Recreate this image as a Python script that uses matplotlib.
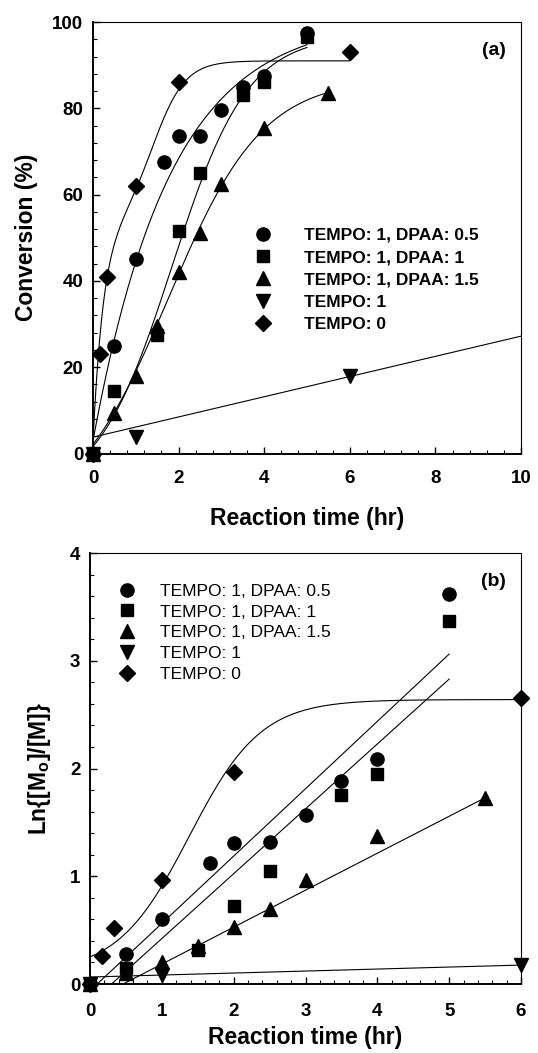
import numpy as np
import matplotlib
matplotlib.use('Agg')
import matplotlib.pyplot as plt
from matplotlib.ticker import MultipleLocator

plt.rcParams['font.family'] = ['Liberation Sans', 'DejaVu Sans']

labels = ["TEMPO: 1, DPAA: 0.5", "TEMPO: 1, DPAA: 1", "TEMPO: 1, DPAA: 1.5",
          "TEMPO: 1", "TEMPO: 0"]
markers = ['o', 's', '^', 'v', 'D']
msizes = [9.5, 8, 9.5, 9.5, 8.3]

# (a) conversion (%) vs reaction time (hr)
t_dpaa05 = [0, 0.5, 1, 1.67, 2, 2.5, 3, 3.5, 4, 5]
c_dpaa05 = [0, 25, 45, 67.5, 73.5, 73.5, 79.5, 85, 87.5, 97.5]
t_dpaa1 = [0, 0.5, 1.5, 2, 2.5, 3.5, 4, 5]
c_dpaa1 = [0, 14.5, 27.5, 51.5, 65, 83, 86, 96.5]
t_dpaa15 = [0, 0.5, 1, 1.5, 2, 2.5, 3, 4, 5.5]
c_dpaa15 = [0, 9.5, 18, 29.5, 42, 51, 62.5, 75.5, 83.5]
t_tempo1 = [0, 1, 6]
c_tempo1 = [0, 3.8, 18]
t_tempo0 = [0, 0.17, 0.33, 1, 2, 6]
c_tempo0 = [0, 23, 41, 62, 86, 93]

# (b) Ln{[Mo]/[M]} vs reaction time (hr)
l_dpaa05 = [0, 0.28, 0.6, 1.12, 1.31, 1.32, 1.57, 1.88, 2.09, 3.62]
l_dpaa1 = [0, 0.15, 0.32, 0.72, 1.05, 1.75, 1.95, 3.37]
t_dpaa15_b = [0, 0.5, 1, 1.5, 2, 2.5, 3, 4, 5.5]
l_dpaa15 = [0, 0.1, 0.2, 0.35, 0.53, 0.7, 0.97, 1.37, 1.73]
l_tempo1 = [0, 0.08, 0.18]
l_tempo0 = [0, 0.26, 0.52, 0.97, 1.97, 2.65]

# fitted curves, parameters
# y = y0 + m*x + a1*(1-exp(-k1*x)) + a2/(1+exp(-(x-x0)/b))
fits_a = [
    dict(xmax=5, y0=3, a1=98, k1=0.55),
    dict(xmax=5, y0=-10, a2=107, x0=1.85, b=0.88),
    dict(xmax=5.5, y0=-15, a2=102, x0=1.76, b=1.1),
    dict(xmax=10, y0=3.8, m=2.34),
    dict(xmax=6, y0=2, a1=50, k1=4, a2=39, x0=1.4, b=0.38),
]
fits_b = [
    dict(xmax=5, y0=-0.0625, m=0.625),
    dict(xmax=5, y0=-0.18, m=0.602),
    dict(xmax=5.5, y0=-0.158, m=0.343),
    dict(xmax=6, y0=0.065, m=0.0185),
    dict(xmax=6, y0=0.1, a2=2.54, x0=1.38, b=0.5),
]


def fit_curve(p):
    x = np.linspace(0, p['xmax'], 300)
    y = p.get('y0', 0) + p.get('m', 0) * x
    if 'a1' in p:
        y = y + p['a1'] * (1 - np.exp(-p['k1'] * x))
    if 'a2' in p:
        y = y + p['a2'] / (1 + np.exp(-(x - p['x0']) / p['b']))
    return x, y


def style_axes(ax, xmax, xmaj, xmin, ymax, ymaj, ymin, xpad, xlabelpad):
    ax.set_xlim(0, xmax)
    ax.set_ylim(0, ymax)
    ax.xaxis.set_major_locator(MultipleLocator(xmaj))
    ax.xaxis.set_minor_locator(MultipleLocator(xmin))
    ax.yaxis.set_major_locator(MultipleLocator(ymaj))
    ax.yaxis.set_minor_locator(MultipleLocator(ymin))
    ax.tick_params(which='both', direction='in', top=False, right=False)
    ax.tick_params(which='major', length=5, width=1, labelsize=13.5, pad=7)
    ax.tick_params(axis='x', which='major', pad=xpad)
    ax.tick_params(which='minor', length=3, width=0.8)
    for lab in ax.get_xticklabels() + ax.get_yticklabels():
        lab.set_fontweight('bold')
    for side in ['left', 'bottom']:
        ax.spines[side].set_linewidth(1.4)
    for side in ['top', 'right']:
        ax.spines[side].set_linewidth(0.8)
    ax.set_xlabel("Reaction time (hr)", fontsize=16.5, fontweight='bold',
                  labelpad=xlabelpad)


fig = plt.figure(figsize=(5.38, 10.53), dpi=100)

# ---- panel (a)
ax = fig.add_axes([0.1729, 0.5693, 0.7955, 0.4098])
series_a = [(t_dpaa05, c_dpaa05), (t_dpaa1, c_dpaa1), (t_dpaa15, c_dpaa15),
            (t_tempo1, c_tempo1), (t_tempo0, c_tempo0)]
handles = []
for (x, y), mk, ms, lab, p in zip(series_a, markers, msizes, labels, fits_a):
    fx, fy = fit_curve(p)
    ax.plot(fx, fy, color='black', lw=0.8)
    h, = ax.plot(x, y, linestyle='none', marker=mk, ms=ms, color='black',
                 label=lab, clip_on=False, zorder=3)
    handles.append(h)
style_axes(ax, 10, 2, 0.4, 100, 20, 4, xpad=12, xlabelpad=14)
ax.set_ylabel("Conversion (%)", fontsize=16.5, fontweight='bold', labelpad=10)
ax.text(0.965, 0.935, "(a)", transform=ax.transAxes, ha='right', va='center',
        fontsize=14, fontweight='bold')
leg = ax.legend(handles=handles, loc='upper left', bbox_to_anchor=(0.36, 0.54),
                frameon=False, fontsize=12.5, handlelength=1.0, handletextpad=1.9,
                labelspacing=0.42, borderaxespad=0)
for txt in leg.get_texts():
    txt.set_fontweight('bold')

# ---- panel (b)
ax = fig.add_axes([0.1673, 0.0655, 0.8011, 0.4093])
series_b = [(t_dpaa05, l_dpaa05), (t_dpaa1, l_dpaa1), (t_dpaa15_b, l_dpaa15),
            (t_tempo1, l_tempo1), (t_tempo0, l_tempo0)]
handles = []
for (x, y), mk, ms, lab, p in zip(series_b, markers, msizes, labels, fits_b):
    fx, fy = fit_curve(p)
    ax.plot(fx, fy, color='black', lw=0.8)
    h, = ax.plot(x, y, linestyle='none', marker=mk, ms=ms, color='black',
                 label=lab, clip_on=False, zorder=3)
    handles.append(h)
style_axes(ax, 6, 1, 0.2, 4, 1, 0.2, xpad=14, xlabelpad=4)
ax.set_ylabel("Ln{[M$_\\mathregular{o}$]/[M]}", fontsize=16.5, fontweight='bold', labelpad=12)
ax.text(0.965, 0.935, "(b)", transform=ax.transAxes, ha='right', va='center',
        fontsize=14, fontweight='bold')
ax.legend(handles=handles, loc='upper left', bbox_to_anchor=(0.05, 0.945),
          frameon=False, fontsize=12.5, handlelength=1.0, handletextpad=1.4,
          labelspacing=0.32, borderaxespad=0)

fig.savefig('out.png', dpi=100)
